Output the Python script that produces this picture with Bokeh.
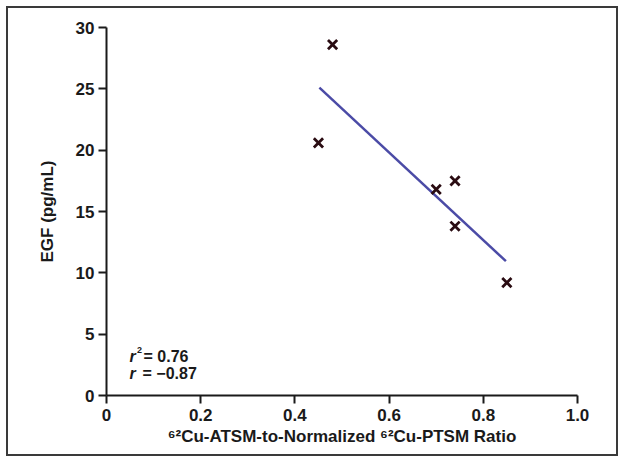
from bokeh.plotting import figure
from bokeh.models import Range1d, FixedTicker, Label
from bokeh.embed import file_html
from bokeh.resources import INLINE

# Data
ratio = [0.48, 0.45, 0.70, 0.74, 0.74, 0.85]
egf = [28.6, 20.6, 16.8, 17.5, 13.8, 9.2]
fit_x = [0.452, 0.848]
fit_y = [25.1, 10.95]
x_ticks = [0, 0.2, 0.4, 0.6, 0.8, 1.0]
x_tick_labels = ["0", "0.2", "0.4", "0.6", "0.8", "1.0"]
y_ticks = [0, 5, 10, 15, 20, 25, 30]
stat_r2 = "0.76"
stat_r = "\u22120.87"

FONT = "Liberation Sans"
INK = "#1a1a1a"

p = figure(width=612, height=450, output_backend="svg", toolbar_location=None,
           x_range=Range1d(0, 1.0), y_range=Range1d(0, 30),
           min_border_left=98, min_border_right=43, min_border_top=19, min_border_bottom=63)
p.styles = {"border": "2px solid #3a3a3a", "margin": "6px 0 0 6px"}

p.xgrid.visible = False
p.ygrid.visible = False
p.outline_line_color = None

for ax in (p.xaxis[0], p.yaxis[0]):
    ax.axis_line_color = INK
    ax.axis_line_width = 2
    ax.major_tick_line_color = INK
    ax.major_tick_line_width = 2
    ax.major_tick_out = 8
    ax.major_tick_in = 0
    ax.minor_tick_line_color = None
    ax.major_label_text_font = FONT
    ax.major_label_text_font_style = "bold"
    ax.major_label_text_font_size = "17px"
    ax.major_label_text_color = INK
    ax.axis_label_text_font = FONT
    ax.axis_label_text_font_style = "bold"
    ax.axis_label_text_font_size = "17px"
    ax.axis_label_text_color = INK

p.xaxis.ticker = FixedTicker(ticks=x_ticks)
p.xaxis.major_label_overrides = {t: l for t, l in zip(x_ticks, x_tick_labels)}
p.yaxis.ticker = FixedTicker(ticks=y_ticks)
p.xaxis.major_label_standoff = 5
p.yaxis.major_label_standoff = 4
p.xaxis.axis_label = "\u2076\u00b2Cu-ATSM-to-Normalized \u2076\u00b2Cu-PTSM Ratio"
p.yaxis.axis_label = "EGF (pg/mL)"
p.xaxis.axis_label_standoff = 3
p.yaxis.axis_label_standoff = 16

p.line(fit_x, fit_y, line_color="#4b4ba6", line_width=2.5)
p.scatter(ratio, egf, marker="x", size=13, line_width=2.8, line_color="#2a0c12")

sx, sy1, sy2 = 0.049, 3.2, 1.79
common = dict(text_font=FONT, text_font_style="bold", text_color=INK, text_baseline="alphabetic")
p.add_layout(Label(x=sx, y=sy1, text="r", text_font_size="16px", **{**common, "text_font_style": "bold italic"}))
p.add_layout(Label(x=sx, y=sy1, x_offset=7.5, y_offset=6, text="2", text_font_size="9px", **common))
p.add_layout(Label(x=sx, y=sy1, x_offset=14, text="= " + stat_r2, text_font_size="16px", **common))
p.add_layout(Label(x=sx, y=sy2, text="r", text_font_size="16px", **{**common, "text_font_style": "bold italic"}))
p.add_layout(Label(x=sx, y=sy2, x_offset=13, text="= " + stat_r, text_font_size="16px", **common))

open("out.html", "w").write(file_html(p, INLINE))
